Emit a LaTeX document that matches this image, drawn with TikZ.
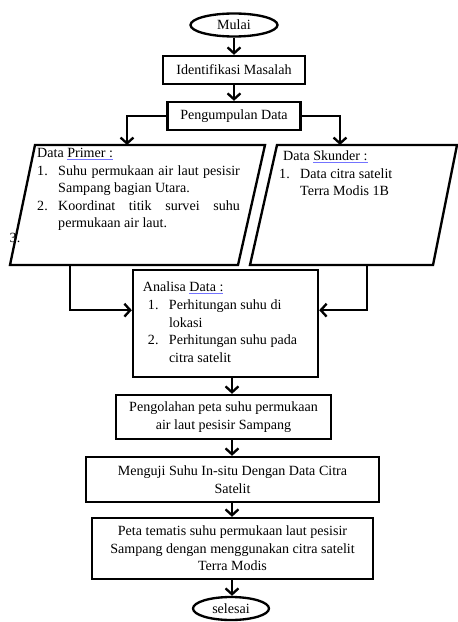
\documentclass[tikz,border=0pt]{standalone}
\usepackage{fontspec}
\setmainfont{Liberation Serif}
\usepackage{array}
\usetikzlibrary{shapes,arrows.meta,positioning}
\newcommand{\spellmark}[1]{\textcolor{blue!55}{\underline{\textcolor{black}{#1}}}}

\begin{document}
\begin{tikzpicture}[x=0.03cm, y=-0.03cm,
  every node/.style={font=\fontsize{12}{15}\selectfont},
  box/.style={draw, rectangle, line width=2pt, align=center, inner sep=0pt},
  oval/.style={draw, ellipse, line width=2pt, inner sep=0pt},
  arr/.style={line width=2pt, -{Straight Barb[length=5pt,width=11pt]}}]
\useasboundingbox (0,0) rectangle (458,622);
\node[oval, minimum width=2.61cm, minimum height=0.69cm] (mulai) at (234,25) {Mulai};
\node[box, minimum width=4.26cm, minimum height=0.84cm] (ident) at (234,70) {Identifikasi Masalah};
\node[box, minimum width=3.99cm, minimum height=0.84cm] (kumpul) at (234,116) {Pengumpulan Data};
\node (tiga) at (15,238) {3.};
\draw[line width=2pt] (35,145) -- (265,145) -- (238,265) -- (10,265) -- cycle;
\draw[line width=2pt] (277,145) -- (457,145) -- (433,265) -- (250,265) -- cycle;
\node[anchor=north west, inner sep=0pt] (primer) at (37,145) {%
\begin{tabular}{@{}p{0.63cm}@{}p{5.45cm}@{}}
\multicolumn{2}{@{}l@{}}{Data \spellmark{Primer :}}\\
1. & Suhu permukaan air laut pesisir\linebreak Sampang bagian Utara.\\
2. & Koordinat titik survei suhu\linebreak permukaan air laut.
\end{tabular}};
\node[anchor=north west, inner sep=0pt] (skunder) at (279,148) {%
\begin{tabular}{@{}p{0.63cm}@{}l@{}}
\multicolumn{2}{@{\hspace{0.12cm}}l@{}}{Data \spellmark{Skunder :}}\\
1. & Data citra satelit\\
 & Terra Modis 1B
\end{tabular}};
\coordinate (pTop) at (127,145);
\coordinate (sTop) at (340,145);
\coordinate (pBot) at (70,265);
\coordinate (sBot) at (367,265);
\node[box, minimum width=5.55cm, minimum height=3.21cm] (analisa) at (225.5,323.5) {%
\begin{tabular}{@{\hspace{0.15cm}}p{0.63cm}@{}p{4.17cm}@{}}
\multicolumn{2}{@{}l@{}}{Analisa \spellmark{Data :}}\\
1. & Perhitungan suhu di\newline lokasi\\
2. & Perhitungan suhu pada\newline citra satelit
\end{tabular}};
\node[box, minimum width=6.45cm, minimum height=1.32cm] (olah) at (223.5,417) {Pengolahan peta suhu permukaan\\air laut pesisir Sampang};
\node[box, minimum width=8.79cm, minimum height=1.35cm] (uji) at (232.5,479.5) {Menguji Suhu In-situ Dengan Data Citra\\Satelit};
\node[box, minimum width=8.43cm, minimum height=1.83cm] (peta) at (232.5,548.5) {Peta tematis suhu permukaan laut pesisir\\Sampang dengan menggunakan citra satelit\\Terra Modis};
\node[oval, minimum width=2.28cm, minimum height=0.69cm] (selesai) at (231,608.5) {selesai};
\coordinate (axis) at (232,0);
\draw[arr] (mulai) -- (ident);
\draw[arr] (ident) -- (kumpul);
\draw[arr] (kumpul.west) -| (pTop);
\draw[arr] (kumpul.east) -| (sTop);
\draw[arr] (pBot) |- ([yshift=0.4cm]analisa.west);
\draw[arr] (sBot) |- ([yshift=0.4cm]analisa.east);
\draw[arr] (analisa.south -| axis) -- (olah.north -| axis);
\draw[arr] (olah.south -| axis) -- (uji.north -| axis);
\draw[arr] (uji.south -| axis) -- (peta.north -| axis);
\draw[arr] (peta.south -| axis) -- (selesai.north -| axis);
\end{tikzpicture}
\end{document}
